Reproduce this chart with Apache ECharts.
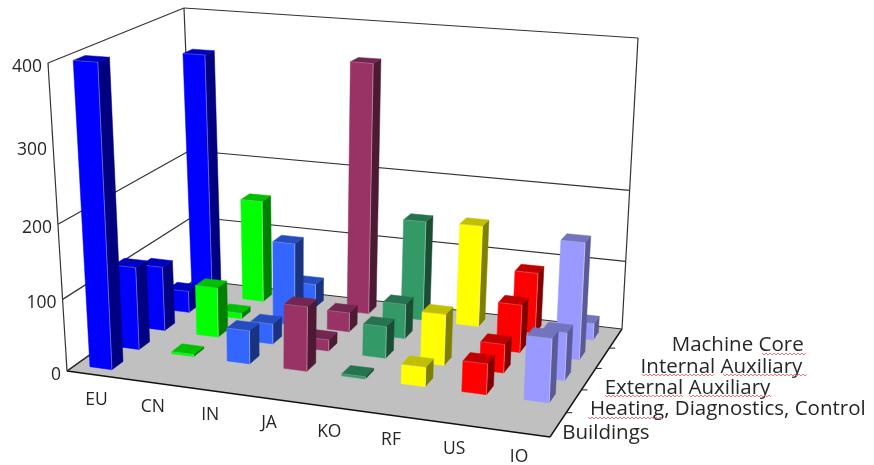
<!DOCTYPE html>
<html>
<head>
<meta charset="utf-8">
<style>html,body{margin:0;padding:0;background:#fff}#chart{width:874px;height:465px}</style>
<script src="https://cdn.jsdelivr.net/npm/echarts@6/dist/echarts.min.js"></script>
</head>
<body>
<div id="chart"></div>
<script>
// Categories and tick labels
const categories = ['EU', 'CN', 'IN', 'JA', 'KO', 'RF', 'US', 'IO'];
const rows = ['Buildings', 'Heating, Diagnostics, Control', 'External Auxiliary', 'Internal Auxiliary', 'Machine Core'];
const valueTicks = [0, 100, 200, 300, 400];
const gridLevels = [0, 100, 200, 400];

// Values per row, one entry per category
const buildings = [400, 0, 0, 0, 0, 0, 0, 0];
const heating = [117, 3, 47, 90, 3, 27, 42, 86];
const external = [93, 72, 29, 16, 45, 72, 40, 66];
const internal = [32, 8, 120, 28, 50, 0, 68, 163];
const machineCore = [350, 151, 35, 355, 145, 147, 88, 24];
const rowValues = [buildings, heating, external, internal, machineCore];

// Face colours per category: front, side, top
const categoryFaces = [
  ['#0000FF', '#000080', '#0000C0'],
  ['#00FF00', '#008000', '#00C000'],
  ['#3366FF', '#1A3380', '#264DBF'],
  ['#993366', '#4D1A33', '#732650'],
  ['#339966', '#1A4D33', '#267350'],
  ['#FFFF00', '#808000', '#C0C000'],
  ['#FF0000', '#800000', '#C00000'],
  ['#9999FF', '#5A5A96', '#7373BF']
];

// Scene layout: corners of the box on screen and the perspective settings
const FLOOR = [[67, 371], [550, 437], [622, 329], [195, 280]];
const TOP = [[48, 63], [564, 100], [638, 38], [184, 8]];
const HEIGHT_W = 1.1;
const BAR_HALF_X = 0.4 / 8 / 2;
const BAR_HALF_Z = 0.4 / 5 / 2;
const BAR_SHIFT_X = -0.005;
const FONT = '17.5px "Open Sans", sans-serif';
const ROW_FONT = '20.5px "Open Sans", sans-serif';
const INK = '#262626';
const ROW_LABEL_DX = [4, 16, 16, 38, 56];
const ROW_LABEL_DY = [8, 8, 9, 9, 7];

function homography(q) {
  const [[x0, y0], [x1, y1], [x2, y2], [x3, y3]] = q;
  const dx1 = x1 - x2, dx2 = x3 - x2, sx = x0 - x1 + x2 - x3;
  const dy1 = y1 - y2, dy2 = y3 - y2, sy = y0 - y1 + y2 - y3;
  const den = dx1 * dy2 - dx2 * dy1;
  const g = (sx * dy2 - dx2 * sy) / den, h = (dx1 * sy - sx * dy1) / den;
  const a = x1 - x0 + g * x1, b = x3 - x0 + h * x3;
  const d = y1 - y0 + g * y1, e = y3 - y0 + h * y3;
  return (u, v) => {
    const w = g * u + h * v + 1;
    return [(a * u + b * v + x0) / w, (d * u + e * v + y0) / w];
  };
}
const floorMap = homography(FLOOR);
const topMap = homography(TOP);

// x and z are fractions of the floor, h is a fraction of the value axis
function project(x, z, h) {
  const f = floorMap(x, z), t = topMap(x, z);
  const k = h / (h + (1 - h) * HEIGHT_W);
  return [f[0] + (t[0] - f[0]) * k, f[1] + (t[1] - f[1]) * k];
}

// Reads the hidden axes: category index gives x, value gives the height fraction
function axisFractions(api, cat, val) {
  const p = api.coord([cat, val]);
  return [p[0] / api.getWidth(), 1 - p[1] / api.getHeight()];
}

function poly(points, fill, stroke, lineWidth) {
  return {
    type: 'polygon',
    shape: { points },
    style: { fill, stroke: stroke || null, lineWidth: lineWidth || 0 }
  };
}

function renderBar(params, api) {
  const cat = api.value(0), row = api.value(1), val = api.value(2);
  if (!val) return null;
  const [cx, h] = axisFractions(api, cat, val);
  const cz = (row + 0.5) / rows.length;
  const x0 = cx + BAR_SHIFT_X - BAR_HALF_X, x1 = cx + BAR_SHIFT_X + BAR_HALF_X;
  const z0 = cz - BAR_HALF_Z, z1 = cz + BAR_HALF_Z;
  const c = categoryFaces[cat];
  const a = project(x0, z0, 0), b = project(x1, z0, 0), e = project(x1, z1, 0);
  const A = project(x0, z0, h), B = project(x1, z0, h), E = project(x1, z1, h), D = project(x0, z1, h);
  return {
    type: 'group',
    children: [
      poly([b, e, E, B], c[1], c[1], 0.5),
      poly([a, b, B, A], c[0], c[0], 0.5),
      poly([A, B, E, D], c[2], c[2], 0.5),
      { type: 'line', shape: { x1: b[0], y1: b[1], x2: B[0], y2: B[1] }, style: { stroke: 'rgba(255,255,255,0.35)', lineWidth: 1 } },
      { type: 'line', shape: { x1: A[0], y1: A[1], x2: B[0], y2: B[1] }, style: { stroke: 'rgba(255,255,255,0.22)', lineWidth: 1 } }
    ]
  };
}

function seg(p, q, width, colour) {
  return {
    type: 'line',
    shape: { x1: p[0], y1: p[1], x2: q[0], y2: q[1] },
    style: { stroke: colour || '#333333', lineWidth: width || 1.2 }
  };
}

function renderGridLevel(params, api) {
  const [, h] = axisFractions(api, 0, api.value(0));
  return {
    type: 'group',
    children: [
      seg(project(0, 0, h), project(0, 1, h)),
      seg(project(0, 1, h), project(1, 1, h))
    ]
  };
}

function renderBox(params, api) {
  const [, top] = axisFractions(api, 0, 400);
  const children = [
    poly([project(0, 0, 0), project(1, 0, 0), project(1, 1, 0), project(0, 1, 0)], '#C0C0C0'),
    seg(project(0, 0, 0), project(0, 0, top)),
    seg(project(0, 1, 0), project(0, 1, top)),
    seg(project(1, 1, 0), project(1, 1, top)),
    seg(project(0, 0, 0), project(1, 0, 0), 1.4, '#111'),
    seg(project(1, 0, 0), project(1, 1, 0), 1.4, '#111'),
    seg(project(0, 0, 0), project(0, 1, 0), 1.2, '#111')
  ];
  for (let r = 1; r < rows.length; r++) {
    const p = project(1, r / rows.length, 0);
    children.push(seg(p, [p[0] + 6, p[1]], 1, '#222'));
  }
  return { type: 'group', children };
}

function text(x, y, str, align, font) {
  return {
    type: 'text',
    style: { x, y, text: str, font: font || FONT, fill: INK, align, verticalAlign: 'middle' }
  };
}

function renderValueLabel(params, api) {
  const val = api.value(0);
  const [, h] = axisFractions(api, 0, val);
  const p = project(0, 0, h);
  return text(p[0] - 6, p[1] + 4, String(val), 'right');
}

function renderCategoryLabel(params, api) {
  const cat = api.value(0);
  const [cx] = axisFractions(api, cat, 0);
  const p = project(cx, 0, 0);
  return text(p[0] + 2, p[1] + 25, categories[cat], 'center');
}

function renderRowLabel(params, api) {
  const row = api.value(0);
  const p = project(1, (row + 0.5) / rows.length, 0);
  return text(p[0] + ROW_LABEL_DX[row], p[1] + ROW_LABEL_DY[row], rows[row], 'left', ROW_FONT);
}

// Proofing squiggles beneath some of the row labels: [x start, x end, y]
const squiggles = [[762, 807, 354], [642, 715, 375], [723, 807, 375], [605, 683, 396], [689, 772, 396], [588, 662, 418]];
function renderSquiggle(params, api) {
  const s = squiggles[api.value(0)];
  const points = [];
  for (let x = s[0], i = 0; x <= s[1]; x += 2, i++) points.push([x, s[2] + (i % 2 ? 1 : -1)]);
  return { type: 'polyline', shape: { points }, style: { stroke: '#EE7777', lineWidth: 1, fill: null } };
}

// Back rows first, left to right, so nearer bars paint over farther ones
const barData = [];
for (let r = rows.length - 1; r >= 0; r--) {
  categories.forEach((_, c) => barData.push([c, r, rowValues[r][c]]));
}

const customSeries = (name, data, renderItem, z) => ({
  name, type: 'custom', data, renderItem, z, silent: true, animation: false, clip: false
});

const chart = echarts.init(document.getElementById('chart'), null, { renderer: 'canvas' });
chart.setOption({
  backgroundColor: '#FFFFFF',
  animation: false,
  grid: { left: 0, right: 0, top: 0, bottom: 0 },
  xAxis: { type: 'category', data: categories, show: false },
  yAxis: { type: 'value', min: 0, max: 400, interval: 100, show: false },
  series: [
    customSeries('box', [[0]], renderBox, 1),
    customSeries('grid levels', gridLevels.map(v => [v]), renderGridLevel, 2),
    customSeries('bars', barData, renderBar, 3),
    customSeries('value labels', valueTicks.map(v => [v]), renderValueLabel, 4),
    customSeries('category labels', categories.map((_, i) => [i]), renderCategoryLabel, 4),
    customSeries('row labels', rows.map((_, i) => [i]), renderRowLabel, 4),
    customSeries('proofing marks', squiggles.map((_, i) => [i]), renderSquiggle, 5)
  ]
});
</script>
</body>
</html>
